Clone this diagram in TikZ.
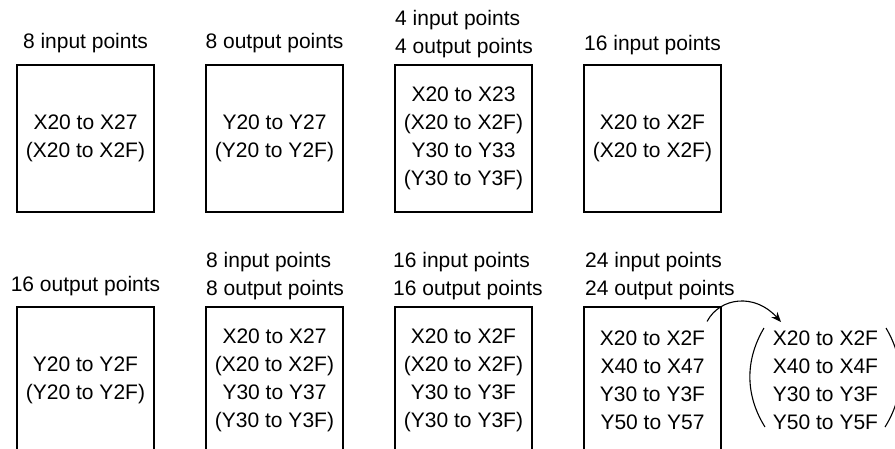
\documentclass[tikz,border=0pt]{standalone}
\usepackage{fontspec}
\setmainfont{Liberation Sans}
\usetikzlibrary{arrows.meta}
\begin{document}
\begin{tikzpicture}[x=1pt,y=-1pt,
  every node/.style={font=\fontsize{21}{28}\selectfont, inner sep=0pt, text=black},
  box/.style={draw, line width=1.1pt, minimum width=137pt, minimum height=147pt, align=center},
  lab/.style={anchor=base},
  labw/.style={anchor=base west, align=left},
  conn/.style={line width=1.1pt}
]
\useasboundingbox (0,0) rectangle (895,448);
\clip (0,0) rectangle (895,448);
% top row
\node[box] (b1) at (85.5,138.5) {X20 to X27\\(X20 to X2F)};
\node[box] (b2) at (274.5,138.5) {Y20 to Y27\\(Y20 to Y2F)};
\node[box] (b3) at (463.5,138.5) {X20 to X23\\(X20 to X2F)\\Y30 to Y33\\(Y30 to Y3F)};
\node[box] (b4) at (652.5,138.5) {X20 to X2F\\(X20 to X2F)};
\node[lab] (l1) at (85.5,48) {8 input points};
\node[lab] (l2) at (274.5,48) {8 output points};
\node[labw] (l3) at (395,53) {4 input points\\4 output points};
\node[lab] (l4) at (652.5,50) {16 input points};
% bottom row
\node[box] (b5) at (85.5,380.5) {Y20 to Y2F\\(Y20 to Y2F)};
\node[box] (b6) at (274.5,380.5) {X20 to X27\\(X20 to X2F)\\Y30 to Y37\\(Y30 to Y3F)};
\node[box] (b7) at (463.5,380.5) {X20 to X2F\\(X20 to X2F)\\Y30 to Y3F\\(Y30 to Y3F)};
\node[box] (b8) at (652.5,380.5) {X20 to X2F\\X40 to X47\\Y30 to Y3F\\Y50 to Y57};
\node[lab] (l5) at (85.5,291) {16 output points};
\node[labw] (l6) at (206,295) {8 input points\\8 output points};
\node[labw] (l7) at (393,295) {16 input points\\16 output points};
\node[labw] (l8) at (585,295) {24 input points\\24 output points};
% mapping
\node[align=left] (map) at (825.5,380.5) {X20 to X2F\\X40 to X4F\\Y30 to Y3F\\Y50 to Y5F};
\coordinate (as) at ([shift={(-14.5,15)}]b8.north east);
\coordinate (ae) at (781,322);
\draw[conn,-{Stealth[length=10pt,width=8pt]}] (as) .. controls (720,297) and (755,293) .. (ae);
\draw[conn] (764,328) .. controls (745,360) and (745,395) .. (765,427);
\draw[conn] (886,328) .. controls (905,360) and (905,395) .. (885,427);
\end{tikzpicture}
\end{document}
